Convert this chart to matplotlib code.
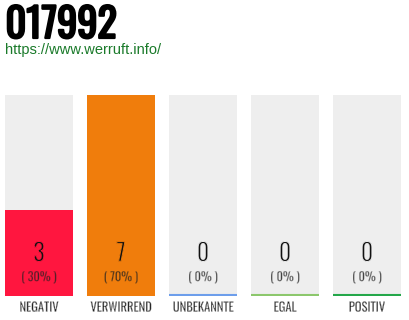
import matplotlib
matplotlib.use("Agg")
import matplotlib.pyplot as plt
from matplotlib import font_manager
import matplotlib.patheffects as pe

categories = ["NEGATIV", "VERWIRREND", "UNBEKANNTE", "EGAL", "POSITIV"]
values = [3, 7, 0, 0, 0]
percents = ["( 30% )", "( 70% )", "( 0% )", "( 0% )", "( 0% )"]
fill_colors = ["#ff163f", "#f07d0c", "#6d9eeb", "#8cc76c", "#24a74a"]
title = "017992"
url = "https://www.werruft.info/"

names = {f.name for f in font_manager.fontManager.ttflist}
cond = [n for n in ["Oswald", "Archivo Narrow", "Barlow Condensed", "DejaVu Sans"] if n in names]
fam = cond[0]

W, H = 410, 320
fig = plt.figure(figsize=(W / 100, H / 100), dpi=100)
fig.patch.set_facecolor("white")

ax = fig.add_axes([5 / W, 24 / H, 396 / W, 201 / H])
ax.set_facecolor("white")
bw = 68 / 82
x = list(range(len(categories)))
vmax = max(values)
bg = "#eeeeee"
ax.bar(x, [vmax] * len(x), width=bw, color=bg, zorder=1)
ax.bar(x, values, width=bw, color=fill_colors, zorder=2)
for i in x:
    under = fill_colors[i] if values[i] > 0 else bg
    thin = [pe.Normal(), pe.Stroke(linewidth=0.7, foreground=under)]
    thin2 = [pe.Normal(), pe.Stroke(linewidth=0.35, foreground=under)]
    ax.plot([i - bw / 2, i + bw / 2], [0.028, 0.028], color=fill_colors[i], lw=1.5,
            solid_capstyle="butt", zorder=1.5)
    ax.text(i, vmax * 0.21, str(values[i]), ha="center", va="center",
            fontsize=17.5, family=fam, color="#111111", zorder=3, path_effects=thin)
    ax.text(i, vmax * 0.094, percents[i], ha="center", va="center",
            fontsize=8.8, family=fam, color="#222222", zorder=3, path_effects=thin2)
    ax.text(i, -vmax * 0.058, categories[i], ha="center", va="center",
            fontsize=9, family=fam, color="#222222",
            path_effects=[pe.Normal(), pe.Stroke(linewidth=0.3, foreground="white")])
ax.set_xlim(-bw / 2, len(x) - 1 + bw / 2)
ax.set_ylim(0, vmax)
ax.axis("off")

fig.text(5.5 / W, 1 - 25 / H, title, ha="left", va="center", fontsize=29,
         family=fam, color="#000000",
         path_effects=[pe.withStroke(linewidth=1.6, foreground="#000000")])
fig.text(5 / W, 1 - 50 / H, url, ha="left", va="center", fontsize=10.5,
         family="Liberation Sans", color="#1a7a2a")

fig.savefig("out.png", dpi=100, facecolor="white")
